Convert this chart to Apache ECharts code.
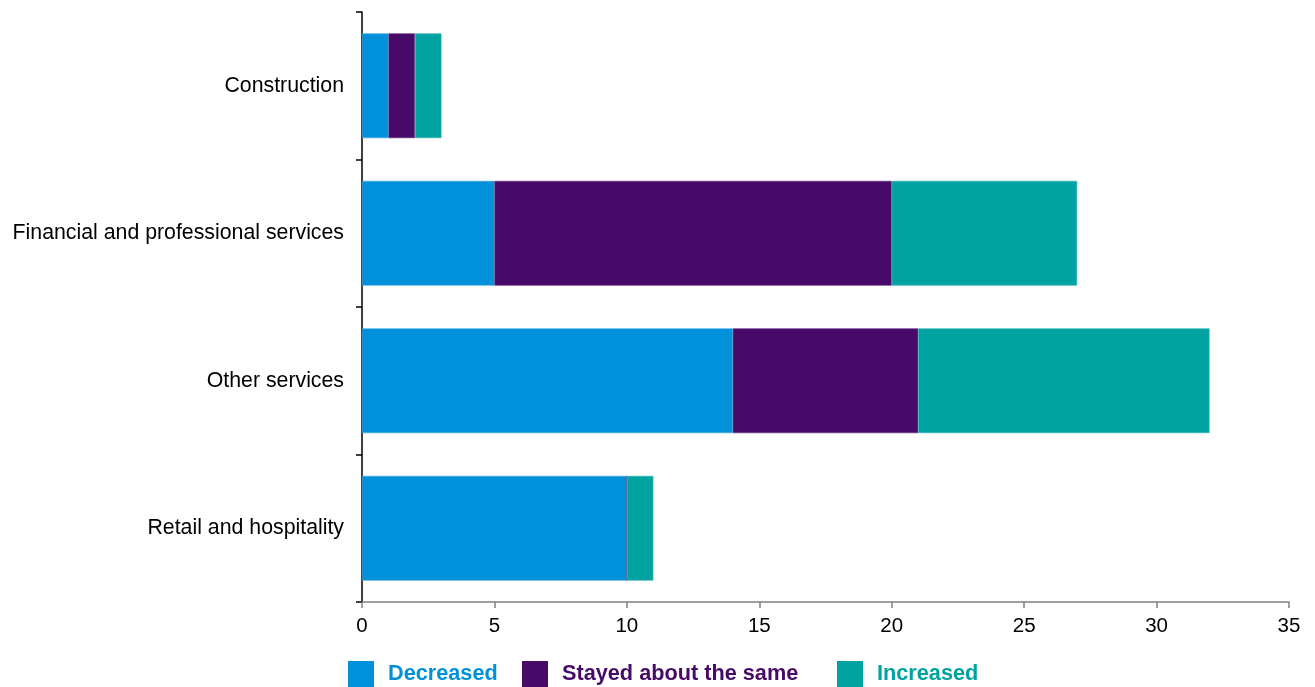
<!DOCTYPE html>
<html><head><meta charset="utf-8">
<script src="https://cdn.jsdelivr.net/npm/echarts@6/dist/echarts.min.js"></script>
<style>html,body{margin:0;padding:0;background:#fff}#c{width:1315px;height:687px}</style>
</head><body><div id="c"></div>
<script>
const categories = ["Construction", "Financial and professional services", "Other services", "Retail and hospitality"];
const decreased = [1, 5, 14, 10];
const stayed = [1, 15, 7, 0];
const increased = [1, 7, 11, 1];
const xTicks = [0, 5, 10, 15, 20, 25, 30, 35];
const seriesNames = ["Decreased", "Stayed about the same", "Increased"];
const colors = ["#0091DA", "#470A68", "#00A3A1"];
const borders = ["#3aa9e6", "#5f2a80", "#2fb6b4"];

const chart = echarts.init(document.getElementById('c'));
const font = "'Liberation Sans', Arial, sans-serif";
const mk = (i, data) => ({
  name: seriesNames[i], type: 'bar', stack: 'a', data: data, barWidth: '71%',
  itemStyle: {color: colors[i], borderColor: borders[i], borderWidth: 0.6},
  emphasis: {disabled: true}
});
const legendLefts = [348, 522, 837];
chart.setOption({
  animation: false,
  grid: {left: 362, right: 26, top: 12, bottom: 85},
  xAxis: {
    type: 'value', min: xTicks[0], max: xTicks[xTicks.length - 1], interval: 5,
    axisLine: {show: true, lineStyle: {color: '#808080', width: 1.5}},
    axisTick: {show: true, length: 6, lineStyle: {color: '#808080', width: 1.5}},
    splitLine: {show: false},
    axisLabel: {color: '#000', fontSize: 20.5, fontFamily: font, margin: 14}
  },
  yAxis: {
    type: 'category', data: categories, inverse: true,
    axisLine: {show: true, lineStyle: {color: '#000', width: 1.5}},
    axisTick: {show: true, length: 6, lineStyle: {color: '#000', width: 1.5}},
    axisLabel: {color: '#000', fontSize: 21.3, fontFamily: font, margin: 18}
  },
  legend: seriesNames.map((n, i) => ({
    data: [n], left: legendLefts[i], top: 661, padding: 0, itemWidth: 26, itemHeight: 26,
    icon: 'rect', itemGap: 0, selectedMode: false,
    itemStyle: {borderWidth: 0},
    textStyle: {color: colors[i], fontSize: 21.7, fontWeight: 'bold', fontFamily: font, padding: [0, 0, 0, 9]}
  })),
  series: [mk(0, decreased), mk(1, stayed), mk(2, increased)]
});
</script></body></html>
